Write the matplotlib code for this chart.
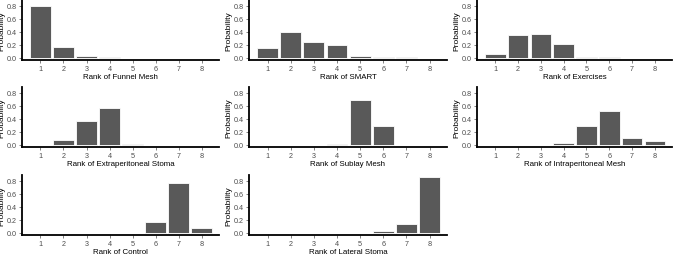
import matplotlib.pyplot as plt
import numpy as np

plt.rcParams['font.family'] = ['Liberation Sans', 'DejaVu Sans']

ranks = [1, 2, 3, 4, 5, 6, 7, 8]

treatments = ["Funnel Mesh", "SMART", "Exercises",
              "Extraperitoneal Stoma", "Sublay Mesh", "Intraperitoneal Mesh",
              "Control", "Lateral Stoma"]

funnel_mesh = [0.79, 0.17, 0.03, 0.005, 0.0, 0.0, 0.0, 0.0]
smart = [0.15, 0.39, 0.24, 0.19, 0.02, 0.01, 0.005, 0.0]
exercises = [0.06, 0.35, 0.37, 0.21, 0.004, 0.004, 0.0, 0.0]
extraperitoneal_stoma = [0.0, 0.08, 0.36, 0.56, 0.005, 0.0, 0.0, 0.0]
sublay_mesh = [0.0, 0.0, 0.0, 0.01, 0.68, 0.29, 0.0, 0.0]
intraperitoneal_mesh = [0.0, 0.0, 0.0, 0.02, 0.28, 0.51, 0.11, 0.06]
control = [0.0, 0.0, 0.0, 0.0, 0.0, 0.16, 0.76, 0.08]
lateral_stoma = [0.0, 0.0, 0.0, 0.0, 0.0, 0.03, 0.13, 0.85]

probs = [funnel_mesh, smart, exercises,
         extraperitoneal_stoma, sublay_mesh, intraperitoneal_mesh,
         control, lateral_stoma]

W, H = 676, 255
fig = plt.figure(figsize=(W / 100, H / 100), dpi=100)

# panel boxes in pixels: (left, right), (top, bottom)
cols = [(22, 219), (249, 447), (477, 672)]
rows = [(1, 61), (88, 148), (176, 236)]

for i, (name, p) in enumerate(zip(treatments, probs)):
    r, c = divmod(i, 3)
    x0, x1 = cols[c]
    y0, y1 = rows[r]
    ax = fig.add_axes([x0 / W, (H - y1) / H, (x1 - x0) / W, (y1 - y0) / H])
    ax.bar(ranks, p, width=0.9, color='#595959', edgecolor='white', linewidth=0.6)
    ax.set_xlim(0.2, 8.75)
    ax.set_ylim(-0.035, 0.885)
    ax.set_xticks(ranks)
    ax.set_yticks([0.0, 0.2, 0.4, 0.6, 0.8])
    ax.set_yticklabels(['0.0', '0.2', '0.4', '0.6', '0.8'])
    for s in ['top', 'right']:
        ax.spines[s].set_visible(False)
    for s in ['left', 'bottom']:
        ax.spines[s].set_linewidth(1.3)
        ax.spines[s].set_color('black')
    ax.tick_params(axis='both', labelsize=5.2, labelcolor='#4d4d4d',
                   color='#4d4d4d', length=2, width=0.5, pad=1.5)
    ax.set_xlabel('Rank of ' + name, fontsize=5.7, labelpad=1.0, color='black')
    ax.set_ylabel('Probability', fontsize=6.0, labelpad=1.0, color='black')
    ax.patch.set_alpha(0)

fig.savefig('out.png', dpi=100)
